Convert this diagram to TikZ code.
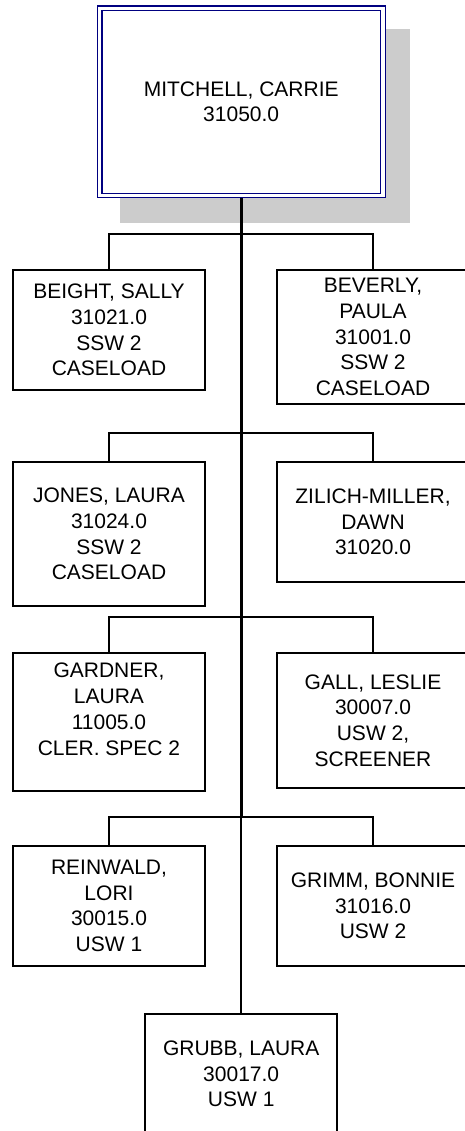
\documentclass[tikz,border=0pt]{standalone}
\usepackage{fontspec}
\setmainfont{Liberation Sans}
\usetikzlibrary{backgrounds}
\definecolor{navyline}{RGB}{0,0,128}
\definecolor{shadowgray}{RGB}{204,204,204}
\begin{document}
\begin{tikzpicture}[x=1pt,y=-1pt,
  txt/.style={align=center, inner sep=0pt, font=\fontsize{21}{25.7}\selectfont},
  person/.style={txt, draw=black, line width=1.5pt, fill=white, rectangle, minimum width=192pt},
  head/.style={txt, draw=navyline, double=white, double distance=3.3pt, line width=1.3pt, fill=white, minimum width=283.3pt, minimum height=187.2pt},
  conn/.style={line width=1.5pt, black},
  trunk/.style={line width=2.6pt, black}]
\useasboundingbox (0,0) rectangle (464,1131);

\node[head] (top) at (241.2,101.9) {MITCHELL, CARRIE\\31050.0};

\node[person, minimum height=120pt] (beight) at (109,330) {BEIGHT, SALLY\\31021.0\\SSW 2\\CASELOAD};
\node[person, minimum height=134pt] (beverly) at (373,337) {BEVERLY,\\PAULA\\31001.0\\SSW 2\\CASELOAD};
\node[person, minimum height=144pt] (jones) at (109,534) {JONES, LAURA\\31024.0\\SSW 2\\CASELOAD};
\node[person, minimum height=120pt] (zilich) at (373,522) {ZILICH-MILLER,\\DAWN\\31020.0};
\node[person, minimum height=138pt] (gardner) at (109,722) {GARDNER,\\LAURA\\11005.0\\CLER. SPEC 2\\ \mbox{}};
\node[person, minimum height=135pt] (gall) at (373,720.5) {GALL, LESLIE\\30007.0\\USW 2,\\SCREENER};
\node[person, minimum height=120pt] (reinwald) at (109,906) {REINWALD,\\LORI\\30015.0\\USW 1};
\node[person, minimum height=120pt] (grimm) at (373,906) {GRIMM, BONNIE\\31016.0\\USW 2};
\node[person, minimum height=120pt] (grubb) at (241.2,1074) {GRUBB, LAURA\\30017.0\\USW 1};

\coordinate (j1) at (top.south |- 0,234);
\coordinate (j2) at (top.south |- 0,433);
\coordinate (j3) at (top.south |- 0,617);
\coordinate (j4) at (top.south |- 0,817);

\begin{scope}[on background layer]
  \fill[shadowgray] (120,29) rectangle (410,223);
  \draw[trunk] (top.south) -- (j4);
  \draw[conn] (j4) -- (grubb.north);
  \draw[conn] (beight.north) |- (j1) -| (beverly.north);
  \draw[conn] (jones.north) |- (j2) -| (zilich.north);
  \draw[conn] (gardner.north) |- (j3) -| (gall.north);
  \draw[conn] (reinwald.north) |- (j4) -| (grimm.north);
\end{scope}
\end{tikzpicture}
\end{document}
